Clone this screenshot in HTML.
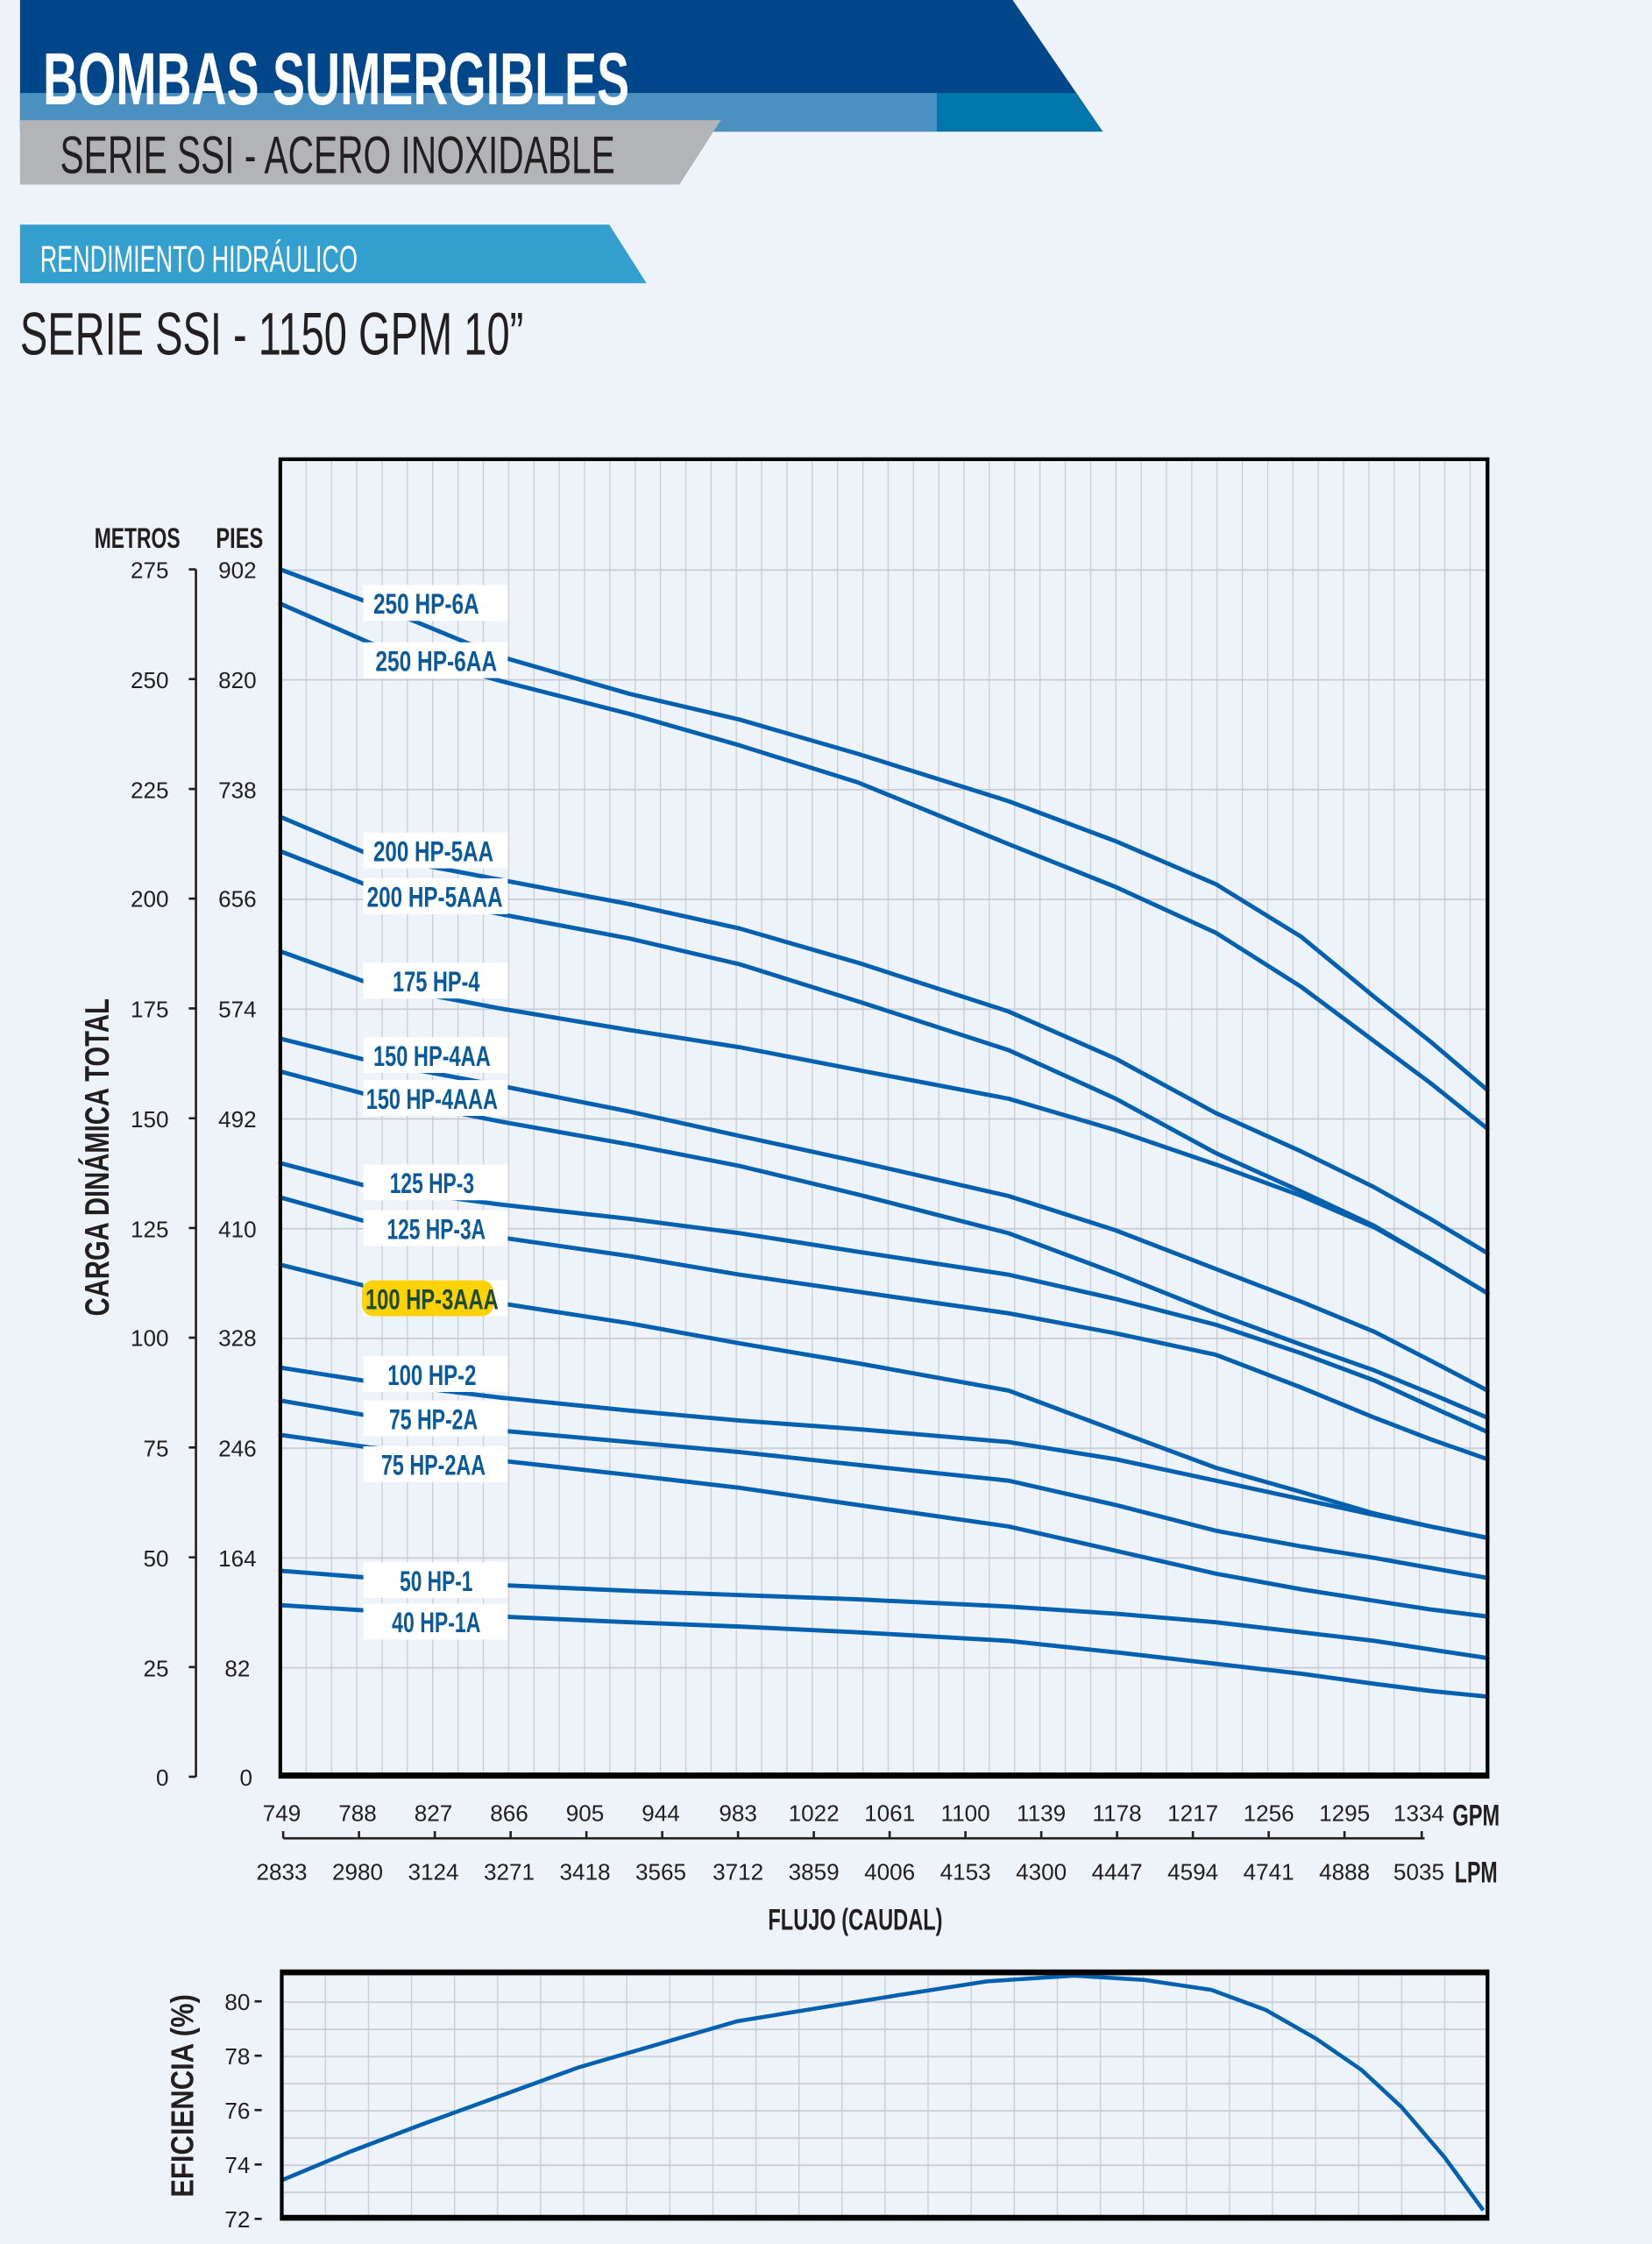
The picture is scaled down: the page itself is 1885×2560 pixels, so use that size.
<!DOCTYPE html>
<html><head><meta charset="utf-8"><style>
html,body{margin:0;padding:0;background:#eef3f9;}
svg{display:block}
.n{font-family:"Liberation Sans Narrow","Liberation Sans",sans-serif;}
</style></head><body>
<svg width="1885" height="2560" viewBox="0 0 1155 1568.6" preserveAspectRatio="none" xmlns="http://www.w3.org/2000/svg">
<defs>
<pattern id="gv" x="196" y="0" width="17.69" height="20" patternUnits="userSpaceOnUse"><line x1="0.4" y1="0" x2="0.4" y2="20" stroke="#c9cbd0" stroke-width="0.8"/></pattern>
<pattern id="gh" x="0" y="1242" width="20" height="76.73" patternUnits="userSpaceOnUse"><line x1="0" y1="0.5" x2="20" y2="0.5" stroke="#c9cbd0" stroke-width="1.1"/></pattern>
<pattern id="ev" x="197" y="0" width="30.1" height="20" patternUnits="userSpaceOnUse"><line x1="0.4" y1="0" x2="0.4" y2="20" stroke="#c9cbd0" stroke-width="0.8"/></pattern>
<pattern id="eh" x="0" y="1551" width="20" height="19" patternUnits="userSpaceOnUse"><line x1="0" y1="0.5" x2="20" y2="0.5" stroke="#c9cbd0" stroke-width="1.1"/></pattern>
</defs>
<rect width="1155" height="1568.6" fill="#eef3f9"/>
<!-- header -->
<polygon points="14,0 708,0 771,92 14,92" fill="#00468a"/>
<rect x="14" y="65" width="641" height="27" fill="#4a90c0"/>
<polygon points="655,65 752,65 771,92 655,92" fill="#0077aa"/>
<polygon points="14,84 504,84 475,129 14,129" fill="#b3b4b7"/>
<text x="30" y="73" class="n" font-weight="bold" font-size="52" fill="#fff" textLength="410" lengthAdjust="spacingAndGlyphs">BOMBAS  SUMERGIBLES</text>
<text x="42" y="121" class="n" font-size="37" fill="#231f20" textLength="388" lengthAdjust="spacingAndGlyphs">SERIE SSI - ACERO INOXIDABLE</text>
<polygon points="14,157 426,157 452,198 14,198" fill="#34a0cf"/>
<text x="28" y="190" class="n" font-size="26" fill="#fff" textLength="222" lengthAdjust="spacingAndGlyphs">RENDIMIENTO HIDRÁULICO</text>
<text x="14" y="248" class="n" font-size="42" fill="#231f20" textLength="352" lengthAdjust="spacingAndGlyphs">SERIE SSI -  1150 GPM 10”</text>

<!-- main plot -->
<rect x="196" y="321" width="844" height="921" fill="url(#gv)"/>
<rect x="196" y="321" width="844" height="921" fill="url(#gh)"/>
<g fill="none" stroke="#0060b0" stroke-width="3" stroke-linejoin="round" stroke-linecap="round">
<polyline points="196,398 260,422 350,459 440,485 517,503 600,527 705,560 780,588 850,618 910,655 961,697 1000,728 1040,762"/>
<polyline points="196,422 260,450 350,476 440,499 517,521 600,547 705,590 780,620 850,652 910,690 961,728 1000,757 1040,789"/>
<polyline points="196,571 260,598 350,615 440,632 517,649 600,673 705,707 780,740 850,778 910,805 961,830 1000,852 1040,876"/>
<polyline points="196,595 260,620 350,639 440,656 517,674 600,700 705,734 780,768 850,806 910,833 961,857 1000,880 1040,904"/>
<polyline points="196,665 260,688 350,705 440,720 517,732 600,748 705,768 780,790 850,814 910,836 961,858 1000,880 1040,904"/>
<polyline points="196,726 260,742 350,759 440,777 517,794 600,812 705,836 780,860 850,887 910,910 961,931 1000,951 1040,972"/>
<polyline points="196,749 260,766 350,784 440,800 517,815 600,835 705,862 780,890 850,918 910,940 961,958 1000,974 1040,991"/>
<polyline points="196,813 260,830 350,842 440,852 517,862 600,875 705,891 780,908 850,926 910,946 961,965 1000,983 1040,1001"/>
<polyline points="196,837 260,855 350,865 440,878 517,891 600,903 705,918 780,932 850,947 910,970 961,991 1000,1006 1040,1020"/>
<polyline points="196,884 260,900 350,911 440,925 517,939 600,953 705,972 780,1000 850,1026 910,1043 961,1058 1000,1067 1040,1075"/>
<polyline points="196,956 260,966 350,977 440,986 517,993 600,999 705,1008 780,1020 850,1035 910,1048 961,1059 1000,1067 1040,1075"/>
<polyline points="196,979 260,990 350,1000 440,1008 517,1015 600,1024 705,1035 780,1052 850,1070 910,1081 961,1089 1000,1096 1040,1103"/>
<polyline points="196,1003 260,1012 350,1021 440,1031 517,1040 600,1052 705,1067 780,1084 850,1100 910,1111 961,1119 1000,1125 1040,1130"/>
<polyline points="196,1098 260,1103 350,1108 440,1112 517,1115 600,1118 705,1123 780,1128 850,1134 910,1141 961,1147 1000,1153 1040,1159"/>
<polyline points="196,1122 260,1126 350,1130 440,1134 517,1137 600,1141 705,1147 780,1155 850,1163 910,1170 961,1177 1000,1182 1040,1186"/>
</g>
<!-- labels -->
<g class="n" font-weight="bold" font-size="20" fill="#0a5a9a" text-anchor="middle">
<rect x="254" y="409" width="101" height="25" fill="#fff"/><text x="298" y="429" textLength="74" lengthAdjust="spacingAndGlyphs">250 HP-6A</text>
<rect x="254" y="449" width="101" height="25" fill="#fff"/><text x="305" y="469" textLength="85" lengthAdjust="spacingAndGlyphs">250 HP-6AA</text>
<rect x="254" y="582" width="101" height="25" fill="#fff"/><text x="303" y="602" textLength="84" lengthAdjust="spacingAndGlyphs">200 HP-5AA</text>
<rect x="254" y="614" width="101" height="25" fill="#fff"/><text x="304" y="634" textLength="95" lengthAdjust="spacingAndGlyphs">200 HP-5AAA</text>
<rect x="254" y="673" width="101" height="25" fill="#fff"/><text x="305" y="693" textLength="61" lengthAdjust="spacingAndGlyphs">175 HP-4</text>
<rect x="254" y="725" width="101" height="25" fill="#fff"/><text x="302" y="745" textLength="82" lengthAdjust="spacingAndGlyphs">150 HP-4AA</text>
<rect x="254" y="755" width="101" height="25" fill="#fff"/><text x="302" y="775" textLength="92" lengthAdjust="spacingAndGlyphs">150 HP-4AAA</text>
<rect x="254" y="814" width="101" height="25" fill="#fff"/><text x="302" y="834" textLength="59" lengthAdjust="spacingAndGlyphs">125 HP-3</text>
<rect x="254" y="846" width="101" height="25" fill="#fff"/><text x="305" y="866" textLength="69" lengthAdjust="spacingAndGlyphs">125 HP-3A</text>
<rect x="254" y="895" width="101" height="25" fill="#fff"/><rect x="253" y="895" width="92" height="25" rx="8" fill="#ffd200"/><text x="302" y="915" fill="#1a4a3a" textLength="93" lengthAdjust="spacingAndGlyphs">100 HP-3AAA</text>
<rect x="254" y="948" width="101" height="25" fill="#fff"/><text x="302" y="968" textLength="62" lengthAdjust="spacingAndGlyphs">100 HP-2</text>
<rect x="254" y="979" width="101" height="25" fill="#fff"/><text x="303" y="999" textLength="62" lengthAdjust="spacingAndGlyphs">75 HP-2A</text>
<rect x="254" y="1011" width="101" height="25" fill="#fff"/><text x="303" y="1031" textLength="73" lengthAdjust="spacingAndGlyphs">75 HP-2AA</text>
<rect x="254" y="1092" width="101" height="25" fill="#fff"/><text x="305" y="1112" textLength="51" lengthAdjust="spacingAndGlyphs">50 HP-1</text>
<rect x="254" y="1121" width="101" height="25" fill="#fff"/><text x="305" y="1141" textLength="62" lengthAdjust="spacingAndGlyphs">40 HP-1A</text>
</g>
<!-- frame -->
<rect x="196" y="321" width="844" height="921" fill="none" stroke="#000" stroke-width="2.6"/>
<line x1="196" y1="1241" x2="1040" y2="1241" stroke="#000" stroke-width="4"/>

<!-- y axis -->
<g stroke="#231f20" stroke-width="1.6" fill="none">
<line x1="137" y1="398" x2="137" y2="1242"/>
<path d="M132,398H137M132,474.7H137M132,551.5H137M132,628.2H137M132,704.9H137M132,781.7H137M132,858.4H137M132,935.1H137M132,1011.8H137M132,1088.6H137M132,1165.3H137M132,1242H137"/>
</g>
<g class="n" font-size="16" fill="#231f20">
<text x="66" y="383" font-weight="bold" font-size="20" textLength="60" lengthAdjust="spacingAndGlyphs">METROS</text>
<text x="151" y="383" font-weight="bold" font-size="20" textLength="33" lengthAdjust="spacingAndGlyphs">PIES</text>
<g text-anchor="end">
<text x="118" y="404">275</text><text x="118" y="481">250</text><text x="118" y="558">225</text><text x="118" y="634">200</text><text x="118" y="711">175</text><text x="118" y="788">150</text><text x="118" y="865">125</text><text x="118" y="941">100</text><text x="118" y="1018">75</text><text x="118" y="1095">50</text><text x="118" y="1172">25</text><text x="118" y="1248">0</text>
</g>
<g text-anchor="middle">
<text x="166" y="404">902</text><text x="166" y="481">820</text><text x="166" y="558">738</text><text x="166" y="634">656</text><text x="166" y="711">574</text><text x="166" y="788">492</text><text x="166" y="865">410</text><text x="166" y="941">328</text><text x="166" y="1018">246</text><text x="166" y="1095">164</text><text x="166" y="1172">82</text><text x="172" y="1248">0</text>
</g>
</g>
<text transform="translate(76,809) rotate(-90)" text-anchor="middle" class="n" font-weight="bold" font-size="24" fill="#231f20" textLength="222" lengthAdjust="spacingAndGlyphs">CARGA DINÁMICA TOTAL</text>

<!-- x axis -->
<g class="n" font-size="16" fill="#231f20" text-anchor="middle">
<text x="197" y="1273">749</text><text x="250" y="1273">788</text><text x="303" y="1273">827</text><text x="356" y="1273">866</text><text x="409" y="1273">905</text><text x="462" y="1273">944</text><text x="516" y="1273">983</text><text x="569" y="1273">1022</text><text x="622" y="1273">1061</text><text x="675" y="1273">1100</text><text x="728" y="1273">1139</text><text x="781" y="1273">1178</text><text x="834" y="1273">1217</text><text x="887" y="1273">1256</text><text x="940" y="1273">1295</text><text x="992" y="1273">1334</text>
<text x="197" y="1314">2833</text><text x="250" y="1314">2980</text><text x="303" y="1314">3124</text><text x="356" y="1314">3271</text><text x="409" y="1314">3418</text><text x="462" y="1314">3565</text><text x="516" y="1314">3712</text><text x="569" y="1314">3859</text><text x="622" y="1314">4006</text><text x="675" y="1314">4153</text><text x="728" y="1314">4300</text><text x="781" y="1314">4447</text><text x="834" y="1314">4594</text><text x="887" y="1314">4741</text><text x="940" y="1314">4888</text><text x="992" y="1314">5035</text>
<text x="1032" y="1276" font-weight="bold" font-size="21" textLength="33" lengthAdjust="spacingAndGlyphs">GPM</text>
<text x="1032" y="1316" font-weight="bold" font-size="21" textLength="30" lengthAdjust="spacingAndGlyphs">LPM</text>
<text x="598" y="1349" font-weight="bold" font-size="21" textLength="122" lengthAdjust="spacingAndGlyphs">FLUJO (CAUDAL)</text>
</g>
<g stroke="#231f20" stroke-width="1.6" fill="none">
<line x1="198" y1="1285" x2="996" y2="1285"/>
<path d="M198,1280V1285M251,1280V1285M304,1280V1285M357,1280V1285M410,1280V1285M463,1280V1285M516,1280V1285M569,1280V1285M622,1280V1285M675,1280V1285M728,1280V1285M781,1280V1285M834,1280V1285M887,1280V1285M940,1280V1285M994,1280V1285"/>
</g>

<!-- efficiency -->
<rect x="197" y="1378" width="843" height="173" fill="url(#ev)"/>
<rect x="197" y="1378" width="843" height="173" fill="url(#eh)"/>
<polyline fill="none" stroke="#0060b0" stroke-width="2.8" stroke-linejoin="round" points="197,1524 245,1504 295,1485 350,1465 405,1445 460,1429 515,1413 570,1404 626,1395 690,1385 751,1381 800,1384 847,1391 885,1405 920,1425 952,1447 980,1473 1010,1508 1037,1545"/>
<rect x="197" y="1378" width="843" height="173" fill="none" stroke="#000" stroke-width="2.6"/>
<line x1="197" y1="1379" x2="1040" y2="1379" stroke="#000" stroke-width="3.5"/>
<line x1="197" y1="1550" x2="1040" y2="1550" stroke="#000" stroke-width="3.5"/>
<g stroke="#231f20" stroke-width="1.6"><path d="M178,1399H183M178,1437H183M178,1475H183M178,1513H183M178,1551H183"/></g>
<g class="n" font-size="16" fill="#231f20" text-anchor="middle">
<text x="166" y="1405">80</text><text x="166" y="1443">78</text><text x="166" y="1481">76</text><text x="166" y="1519">74</text><text x="166" y="1557">72</text>
</g>
<text transform="translate(135,1465) rotate(-90)" text-anchor="middle" font-family="Liberation Sans, sans-serif" font-weight="bold" font-size="22" fill="#231f20" textLength="142" lengthAdjust="spacingAndGlyphs">EFICIENCIA (%)</text>
</svg>
</body></html>
